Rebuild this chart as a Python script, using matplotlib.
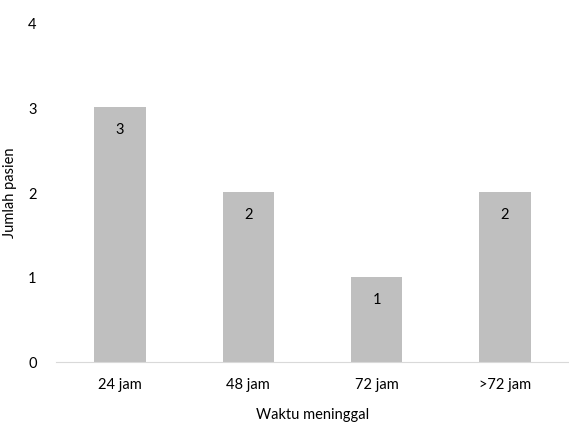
import matplotlib.pyplot as plt

categories = ['24 jam', '48 jam', '72 jam', '>72 jam']
patients = [3, 2, 1, 2]

plt.rcParams['font.family'] = ['Lato', 'DejaVu Sans']

fig = plt.figure(figsize=(5.69, 4.27), dpi=100)
ax = fig.add_axes([0.0984, 0.150, 0.9016, 0.796])

x = range(len(categories))
bars = ax.bar(x, patients, width=0.4, color='#BFBFBF')
# value labels just inside the top of each bar
for b, v in zip(bars, patients):
    ax.text(b.get_x() + b.get_width() / 2, v - 0.26, str(v),
            ha='center', va='center', fontsize=10.5, color='black')

ax.set_xlim(-0.5, len(categories) - 0.5)
ax.set_ylim(0, 4)
ax.set_yticks([0, 1, 2, 3, 4])
ax.set_xticks(list(x))
ax.set_xticklabels(categories)
ax.tick_params(axis='both', length=0, labelsize=10.5, colors='black')
ax.tick_params(axis='x', pad=11)
ax.tick_params(axis='y', pad=14)

for s in ['top', 'right', 'left']:
    ax.spines[s].set_visible(False)
ax.spines['bottom'].set_color('#D9D9D9')

ax.set_xlabel('Waktu meninggal', fontsize=10.5, labelpad=11)
ax.set_ylabel('Jumlah pasien', fontsize=10.5, labelpad=8)

fig.savefig('out.png', dpi=100)
